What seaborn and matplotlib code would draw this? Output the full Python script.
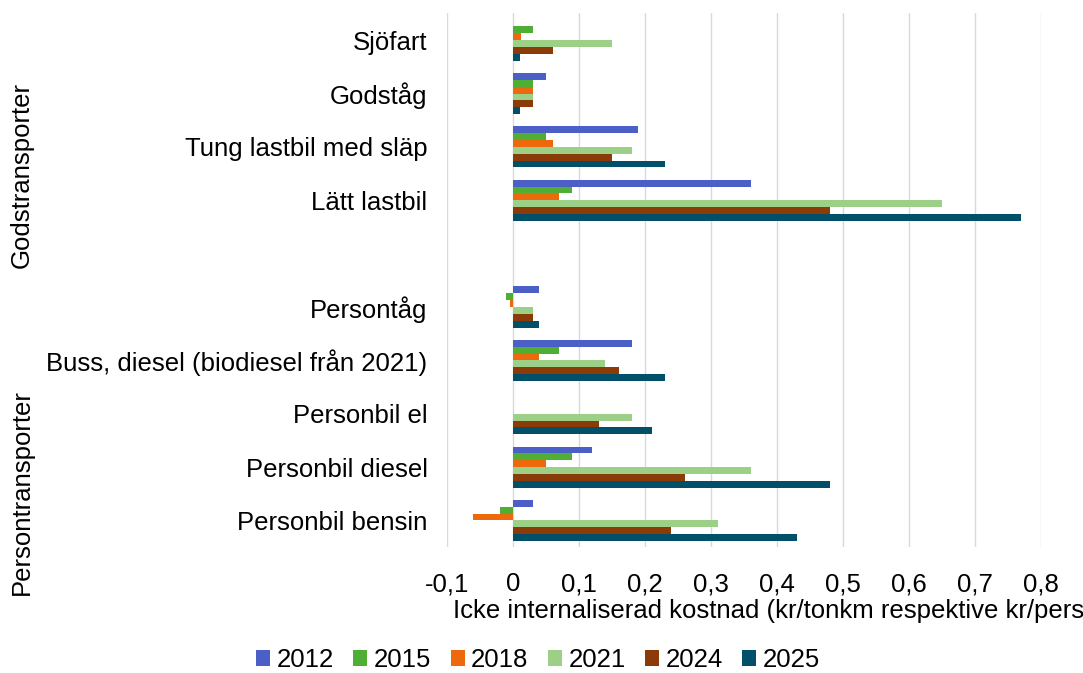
import numpy as np
import pandas as pd
import seaborn as sns
import matplotlib.pyplot as plt
from matplotlib.ticker import FuncFormatter

# === Data ===
categories = ['Sjöfart', 'Godståg', 'Tung lastbil med släp', 'Lätt lastbil', ' ',
              'Persontåg', 'Buss, diesel (biodiesel från 2021)', 'Personbil el',
              'Personbil diesel', 'Personbil bensin']
years = ['2012', '2015', '2018', '2021', '2024', '2025']

# one list per year, same order as categories (nan = no bar)
nan = np.nan
v2012 = [nan, 0.05, 0.19, 0.36, nan, 0.04, 0.18, nan, 0.12, 0.03]
v2015 = [0.03, 0.03, 0.05, 0.09, nan, -0.01, 0.07, nan, 0.09, -0.02]
v2018 = [0.012, 0.03, 0.06, 0.07, nan, -0.005, 0.04, nan, 0.05, -0.06]
v2021 = [0.15, 0.03, 0.18, 0.65, nan, 0.03, 0.14, 0.18, 0.36, 0.31]
v2024 = [0.06, 0.03, 0.15, 0.48, nan, 0.03, 0.16, 0.13, 0.26, 0.24]
v2025 = [0.01, 0.01, 0.23, 0.77, nan, 0.04, 0.23, 0.21, 0.48, 0.43]

colors = ['#4B5FC7', '#4FAE34', '#EC6A0C', '#9CD087', '#8A3B08', '#014F69']

rows = []
for year, vals in zip(years, [v2012, v2015, v2018, v2021, v2024, v2025]):
    for cat, v in zip(categories, vals):
        rows.append({'Kategori': cat, 'År': year, 'Kostnad': v})
df = pd.DataFrame(rows).dropna()

# === Plot ===
sns.set_style('white')
plt.rcParams['font.family'] = ['Liberation Sans', 'DejaVu Sans']
plt.rcParams['text.color'] = 'black'
fs = 18.5

fig = plt.figure(figsize=(10.83, 6.73), dpi=100)
ax = fig.add_axes([0.4127, 0.187, 0.5485, 0.793])

sns.barplot(data=df, x='Kostnad', y='Kategori', hue='År', order=categories,
            hue_order=years, palette=colors, orient='h', width=0.77,
            errorbar=None, ax=ax, saturation=1, linewidth=0)

ax.set_xlim(-0.1, 0.8)
ax.set_xticks(np.arange(-0.1, 0.81, 0.1))
ax.xaxis.set_major_formatter(FuncFormatter(
    lambda x, p: '0' if abs(x) < 1e-9 else f'{x:.1f}'.replace('.', ',')))
ax.grid(axis='x', color='#D9D9D9', linewidth=1)
ax.set_axisbelow(True)
for s in ax.spines.values():
    s.set_visible(False)
ax.tick_params(axis='both', length=0, labelsize=fs, colors='black')
ax.tick_params(axis='y', pad=14)
ax.tick_params(axis='x', pad=18)
ax.set_ylabel('')
ax.set_xlabel('')

# x-axis title, clipped at the right edge like the original
fig.text(453 / 1083, 1 - 611 / 673,
         'Icke internaliserad kostnad (kr/tonkm respektive kr/personkm)',
         fontsize=fs, ha='left', va='center', color='black')

# group labels on the left
fig.text(22 / 1083, 1 - 175 / 673, 'Godstransporter', rotation=90, fontsize=fs,
         ha='center', va='center', color='black')
fig.text(22 / 1083, 1 - 492 / 673, 'Persontransporter', rotation=90, fontsize=fs,
         ha='center', va='center', color='black')

leg = ax.legend(loc='center', bbox_to_anchor=(538 / 1083, 1 - 660 / 673),
                bbox_transform=fig.transFigure, ncol=6, frameon=False, fontsize=fs,
                handlelength=0.55, handleheight=0.55, handletextpad=0.25,
                columnspacing=0.75, borderpad=0)
for t in leg.get_texts():
    t.set_color('black')

fig.savefig('out.png', dpi=100)
